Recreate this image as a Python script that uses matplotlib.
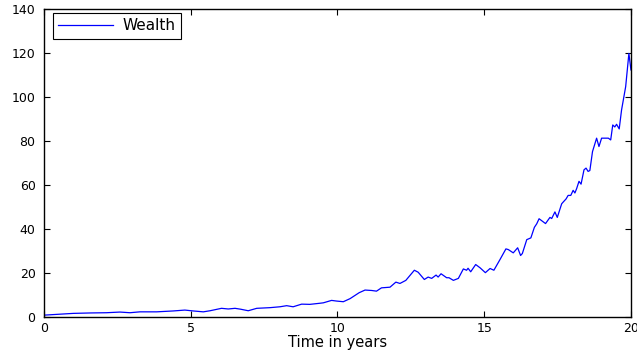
import matplotlib
matplotlib.use("Agg")
import matplotlib.pyplot as plt

# Wealth path over 20 years
years = [0.0, 0.5, 1.0, 1.6, 2.13, 2.59, 2.93, 3.27, 3.84, 4.4, 4.8, 5.09, 5.43, 5.66,
         6.05, 6.28, 6.51, 6.7, 6.96, 7.25, 7.7, 8.04, 8.27, 8.49, 8.78, 9.06, 9.4,
         9.52, 9.8, 9.97, 10.2, 10.43, 10.74, 10.94, 11.17, 11.33, 11.5, 11.79, 11.99,
         12.13, 12.33, 12.62, 12.75, 12.96, 13.09, 13.21, 13.36, 13.43, 13.53, 13.72,
         13.8, 13.95, 14.12, 14.29, 14.4, 14.45, 14.54, 14.71, 14.86, 15.04, 15.2,
         15.33, 15.54, 15.74, 15.82, 15.99, 16.14, 16.24, 16.3, 16.45, 16.59, 16.71,
         16.79, 16.87, 17.09, 17.24, 17.3, 17.41, 17.49, 17.64, 17.7, 17.79, 17.86,
         17.95, 18.03, 18.09, 18.15, 18.23, 18.3, 18.4, 18.47, 18.54, 18.6, 18.69,
         18.83, 18.91, 19.0, 19.23, 19.31, 19.38, 19.45, 19.51, 19.6, 19.68, 19.82,
         19.93, 20.0]
wealth = [1.0, 1.4, 1.8, 2.0, 2.1, 2.4, 2.1, 2.5, 2.5, 2.9, 3.3, 2.9, 2.5, 3.0,
          4.1, 3.8, 4.1, 3.7, 3.0, 4.1, 4.4, 4.8, 5.3, 4.8, 6.0, 5.9, 6.4,
          6.6, 7.7, 7.4, 7.1, 8.5, 11.2, 12.4, 12.2, 11.9, 13.4, 13.7, 16.0,
          15.4, 16.8, 21.4, 20.5, 17.2, 18.3, 17.7, 19.2, 18.3, 19.8, 18.0,
          18.0, 16.8, 17.7, 22.0, 21.4, 22.3, 20.7, 24.0, 22.5, 20.3, 22.2,
          21.4, 26.3, 31.1, 30.8, 29.3, 31.6, 28.1, 29.0, 35.3, 36.1, 40.9,
          42.5, 44.8, 42.6, 45.4, 44.9, 47.9, 45.4, 51.6, 52.5, 53.8, 55.4,
          55.4, 57.7, 56.5, 58.5, 61.8, 60.5, 67.0, 67.8, 66.3, 66.7, 75.3,
          81.4, 77.6, 81.4, 81.4, 80.6, 87.4, 86.5, 87.7, 85.6, 94.2, 104.8,
          119.9, 112.4]

plt.rcParams["font.family"] = ["DejaVu Sans"]

fig = plt.figure(figsize=(6.37, 3.53), dpi=100)
ax = fig.add_axes([0.069, 0.101, 0.9215, 0.873])

ax.plot(years, wealth, color=(0, 0, 1), linewidth=0.9, label="Wealth")

ax.set_xlim(0, 20)
ax.set_ylim(0, 140)
ax.set_xticks([0, 5, 10, 15, 20])
ax.set_yticks(range(0, 141, 20))
ax.set_xlabel("Time in years", fontsize=10.5, labelpad=0)

ax.tick_params(direction="in", top=True, right=True, length=4, width=0.8,
               labelsize=9, colors="black")
ax.tick_params(axis="x", pad=3.5)
ax.tick_params(axis="y", pad=6)
for s in ax.spines.values():
    s.set_linewidth(1.0)

leg = ax.legend(loc="upper left", bbox_to_anchor=(0.0153, 0.988), borderaxespad=0,
                fancybox=False, framealpha=1, edgecolor="black", fontsize=11,
                handlelength=3.6, handletextpad=0.6, borderpad=0.35)
leg.get_frame().set_linewidth(0.8)

fig.savefig("out.png", dpi=100)
